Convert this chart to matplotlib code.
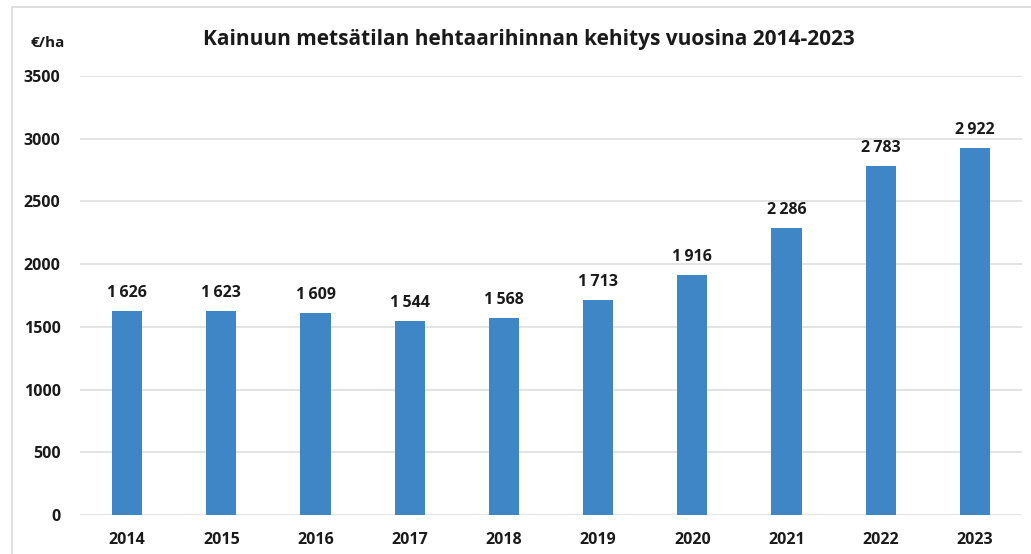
import matplotlib.pyplot as plt
from matplotlib.patches import Rectangle

years = ['2014', '2015', '2016', '2017', '2018', '2019', '2020', '2021', '2022', '2023']
prices = [1626, 1623, 1609, 1544, 1568, 1713, 1916, 2286, 2783, 2922]
yticks = [0, 500, 1000, 1500, 2000, 2500, 3000, 3500]

plt.rcParams['font.family'] = ['Open Sans', 'DejaVu Sans']

fig = plt.figure(figsize=(10.31, 5.54), dpi=100)
# light frame round the chart
fig.patches.append(Rectangle((12 / 1031, -0.05), 1.1, 1 - 7 / 554 + 0.05,
                             transform=fig.transFigure, fill=False,
                             edgecolor='#d9d9d9', linewidth=1.2))

ax = fig.add_axes([80 / 1031, 1 - 515 / 554, 942 / 1031, 439 / 554])
x = range(len(years))
bars = ax.bar(x, prices, width=0.32, color='#3f86c6', zorder=3)

for xi, v in zip(x, prices):
    ax.text(xi, v + 80, f'{v:,}'.replace(',', '\u2009'), ha='center', va='bottom',
            fontsize=11.5, fontweight='bold', color='#1a1a1a')

ax.set_xlim(-0.5, len(years) - 0.5)
ax.set_ylim(0, 3500)
ax.set_yticks(yticks)
ax.set_xticks(list(x))
ax.set_xticklabels(years)
ax.grid(axis='y', color='#dedede', linewidth=1.2, zorder=0)
ax.tick_params(length=0, labelsize=11.5, colors='#1a1a1a')
ax.tick_params(axis='x', pad=12)
ax.tick_params(axis='y', pad=14)
for lab in ax.get_xticklabels() + ax.get_yticklabels():
    lab.set_fontweight('bold')
for s in ax.spines.values():
    s.set_visible(False)

fig.text(529 / 1031, 1 - 40 / 554, 'Kainuun metsätilan hehtaarihinnan kehitys vuosina 2014-2023',
         ha='center', va='center', fontsize=15, fontweight='bold', color='#1a1a1a')
fig.text(48 / 1031, 1 - 43 / 554, '€/ha', ha='center', va='center',
         fontsize=11, fontweight='bold', color='#1a1a1a')

fig.savefig('out.png', dpi=100)
